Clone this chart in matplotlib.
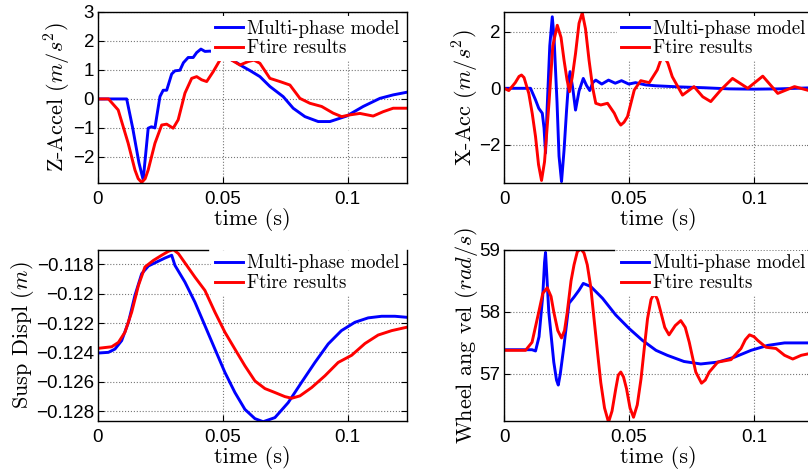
import numpy as np
import matplotlib.pyplot as plt
from matplotlib.ticker import FuncFormatter

plt.rcParams['mathtext.fontset'] = 'cm'
plt.rcParams['axes.unicode_minus'] = True

# ---- Z acceleration (m/s^2) ----
za_t_mp = [0, 0.0116, 0.0140, 0.0165, 0.0182, 0.0202, 0.0215, 0.0229, 0.0249, 0.0262, 0.0276,
           0.0296, 0.0309, 0.0329, 0.0343, 0.0362, 0.0382, 0.0396, 0.0413, 0.0429, 0.0450,
           0.0475, 0.0509, 0.0549, 0.0580, 0.0609, 0.0649, 0.0689, 0.0742, 0.0782, 0.0829,
           0.0882, 0.0929, 0.0996, 0.1062, 0.1129, 0.1182, 0.1236]
za_mp = [0, 0, -1.0, -2.2, -2.79, -1.01, -0.96, -1.0, 0.08, 0.3, 0.3,
         0.86, 0.97, 0.99, 1.25, 1.43, 1.43, 1.6, 1.72, 1.64, 1.65,
         1.6, 1.46, 1.29, 1.12, 0.98, 0.77, 0.43, 0.08, -0.32, -0.61,
         -0.78, -0.78, -0.59, -0.26, 0.02, 0.14, 0.23]
za_t_ft = [0, 0.0043, 0.0082, 0.0122, 0.0149, 0.0162, 0.0176, 0.0190, 0.0202, 0.0229, 0.0256,
           0.0276, 0.0302, 0.0322, 0.0349, 0.0376, 0.0396, 0.0416, 0.0436, 0.0462, 0.0489,
           0.0507, 0.0536, 0.0569, 0.0602, 0.0625, 0.0649, 0.0689, 0.0729, 0.0769, 0.0809,
           0.0849, 0.0896, 0.0942, 0.0976, 0.1009, 0.1049, 0.1102, 0.1142, 0.1182, 0.1236]
za_ft = [0, 0, -0.38, -1.53, -2.45, -2.75, -2.88, -2.75, -2.45, -1.53, -0.9,
         -0.87, -1.01, -0.72, 0.2, 0.71, 0.77, 0.66, 0.6, 0.94, 1.34,
         1.52, 1.34, 1.17, 1.29, 1.34, 1.23, 0.71, 0.6, 0.48, 0.02,
         -0.15, -0.26, -0.49, -0.61, -0.55, -0.5, -0.59, -0.44, -0.32, -0.32]

# ---- X acceleration (m/s^2) ----
xa_t_mp = [0, 0.0106, 0.0126, 0.0139, 0.0153, 0.0160, 0.0166, 0.0172, 0.0183, 0.0193, 0.0200,
           0.0212, 0.0220, 0.0230, 0.0240, 0.0250, 0.0258, 0.0264, 0.0275, 0.0286, 0.0300,
           0.0317, 0.0330, 0.0343, 0.0355, 0.0367, 0.0391, 0.0418, 0.0445, 0.0470, 0.0499,
           0.0526, 0.0566, 0.0606, 0.0700, 0.0800, 0.0900, 0.1000, 0.1100, 0.1236]
xa_mp = [0, 0, -0.41, -0.71, -0.88, -1.4, -2.29, -0.8, 1.5, 2.53, 1.8,
         -0.5, -2.4, -3.3, -2.2, -0.8, 0.2, 0.59, 0.0, -0.77, -0.1,
         0.35, 0.1, -0.08, 0.2, 0.29, 0.15, 0.29, 0.18, 0.27, 0.15,
         0.2, 0.12, 0.09, 0.05, 0.02, -0.02, -0.03, -0.02, 0.02]
xa_t_ft = [0, 0.0019, 0.0045, 0.0060, 0.0070, 0.0080, 0.0099, 0.0113, 0.0126, 0.0138, 0.0150,
           0.0162, 0.0180, 0.0195, 0.0213, 0.0228, 0.0240, 0.0252, 0.0262, 0.0273, 0.0286,
           0.0300, 0.0313, 0.0326, 0.0340, 0.0355, 0.0367, 0.0387, 0.0414, 0.0441, 0.0455,
           0.0467, 0.0480, 0.0494, 0.0521, 0.0547, 0.0581, 0.0613, 0.0627, 0.0640, 0.0655,
           0.0673, 0.0714, 0.0760, 0.0795, 0.0827, 0.0867, 0.0914, 0.0975, 0.1035, 0.1095,
           0.1162, 0.1236]
xa_ft = [0, -0.08, 0.2, 0.42, 0.47, 0.38, -0.18, -0.9, -1.71, -2.7, -3.26,
         -2.6, -0.5, 1.5, 2.23, 1.8, 1.0, 0.3, -0.12, 0.4, 1.23,
         2.3, 2.67, 2.1, 1.0, 0.0, -0.53, -0.59, -0.53, -0.88, -1.15,
         -1.3, -1.2, -1.0, -0.06, 0.27, 0.2, 0.65, 1.0, 1.12, 0.9,
         0.41, -0.24, 0.06, -0.3, -0.47, -0.06, 0.35, 0.0, 0.43, -0.18,
         0.06, -0.12]

# ---- suspension displacement (m) ----
sd_t_mp = [0, 0.0043, 0.0069, 0.0096, 0.0123, 0.0149, 0.0176, 0.0203, 0.0236, 0.0269, 0.0296,
           0.0309, 0.0349, 0.0389, 0.0429, 0.0469, 0.0509, 0.0549, 0.0589, 0.0629, 0.0662,
           0.0709, 0.0762, 0.0815, 0.0869, 0.0922, 0.0975, 0.1029, 0.1082, 0.1136, 0.1189, 0.1236]
sd_mp = [-0.12405, -0.1240, -0.12378, -0.1232, -0.12195, -0.12012, -0.11864, -0.11811, -0.11784,
         -0.11757, -0.11738, -0.11807, -0.11921, -0.12058, -0.12218, -0.12378, -0.12537, -0.12674,
         -0.12789, -0.12852, -0.12873, -0.12845, -0.12743, -0.12606, -0.12469, -0.12343, -0.12252,
         -0.12195, -0.12165, -0.12154, -0.12154, -0.12161]
sd_t_ft = [0, 0.0056, 0.0083, 0.0109, 0.0136, 0.0163, 0.0189, 0.0223, 0.0256, 0.0283, 0.0303,
           0.0323, 0.0356, 0.0389, 0.0429, 0.0469, 0.0509, 0.0549, 0.0589, 0.0629, 0.0669,
           0.0709, 0.0749, 0.0776, 0.0809, 0.0856, 0.0909, 0.0962, 0.1016, 0.1069, 0.1122,
           0.1176, 0.1236]
sd_ft = [-0.12373, -0.12362, -0.12332, -0.12263, -0.12126, -0.11944, -0.11818, -0.11773, -0.11738,
         -0.11711, -0.11700, -0.11727, -0.11807, -0.11887, -0.11978, -0.12126, -0.12263, -0.12378,
         -0.12492, -0.12595, -0.12647, -0.12674, -0.12702, -0.12713, -0.12697, -0.12640, -0.12560,
         -0.12469, -0.12420, -0.12340, -0.12282, -0.12252, -0.12229]

# ---- wheel angular velocity (rad/s) ----
wv_t_mp = [0, 0.0112, 0.0126, 0.0140, 0.0155, 0.0162, 0.0166, 0.0171, 0.0179, 0.0199, 0.0210,
           0.0217, 0.0225, 0.0240, 0.0260, 0.0280, 0.0300, 0.0317, 0.0347, 0.0394, 0.0447,
           0.0501, 0.0554, 0.0608, 0.0653, 0.0720, 0.0787, 0.0855, 0.0922, 0.0988, 0.1055,
           0.1122, 0.1236]
wv_mp = [57.39, 57.39, 57.37, 57.6, 58.27, 58.8, 58.96, 58.6, 58.0, 57.19, 56.9,
         56.82, 57.0, 57.46, 58.14, 58.24, 58.35, 58.46, 58.41, 58.22, 57.95,
         57.73, 57.54, 57.38, 57.3, 57.2, 57.16, 57.19, 57.27, 57.38, 57.46,
         57.5, 57.5]
wv_t_ft = [0, 0.0086, 0.0112, 0.0128, 0.0139, 0.0155, 0.0173, 0.0188, 0.0199, 0.0215, 0.0230,
           0.0242, 0.0253, 0.0268, 0.0280, 0.0293, 0.0307, 0.0320, 0.0333, 0.0347, 0.0360,
           0.0374, 0.0387, 0.0402, 0.0418, 0.0432, 0.0447, 0.0457, 0.0467, 0.0478, 0.0490,
           0.0504, 0.0518, 0.0533, 0.0548, 0.0562, 0.0574, 0.0588, 0.0601, 0.0614, 0.0627,
           0.0643, 0.0660, 0.0685, 0.0707, 0.0725, 0.0741, 0.0767, 0.0790, 0.0805, 0.0821,
           0.0855, 0.0908, 0.0948, 0.0965, 0.0982, 0.1000, 0.1015, 0.1048, 0.1088, 0.1122,
           0.1155, 0.1189, 0.1236]
wv_ft = [57.38, 57.38, 57.51, 57.8, 58.0, 58.3, 58.39, 58.25, 58.0, 57.7, 57.58,
         57.7, 58.0, 58.5, 58.76, 58.97, 59.02, 58.95, 58.76, 58.4, 57.89,
         57.35, 56.86, 56.45, 56.22, 56.4, 56.76, 56.98, 57.03, 56.95, 56.76,
         56.45, 56.3, 56.5, 56.92, 57.45, 57.89, 58.2, 58.3, 58.2, 58.0,
         57.75, 57.63, 57.78, 57.86, 57.75, 57.51, 57.03, 56.85, 56.9, 57.03,
         57.19, 57.23, 57.41, 57.55, 57.63, 57.6, 57.54, 57.43, 57.41, 57.3,
         57.24, 57.3, 57.34]

x_ticks = [0, 0.05, 0.1]
panels = [
    dict(pos=[0.1209, 0.6123, 0.3824, 0.3623], t1=za_t_mp, y1=za_mp, t2=za_t_ft, y2=za_ft,
         ylim=(-2.9, 3.0), yticks=[-2, -1, 0, 1, 2, 3], ylabel='Z-Accel $(m/s^2)$',
         top=True, labx=-0.08),
    dict(pos=[0.6238, 0.6123, 0.3824, 0.3623], t1=xa_t_mp, y1=xa_mp, t2=xa_t_ft, y2=xa_ft,
         ylim=(-3.35, 2.7), yticks=[-2, 0, 2], ylabel='X-Acc $(m/s^2)$',
         top=True, labx=-0.076),
    dict(pos=[0.1209, 0.1081, 0.3824, 0.3623], t1=sd_t_mp, y1=sd_mp, t2=sd_t_ft, y2=sd_ft,
         ylim=(-0.12868, -0.11702), yticks=[-0.128, -0.126, -0.124, -0.122, -0.12, -0.118],
         ylabel='Susp Displ $(m)$', top=False, labx=-0.2),
    dict(pos=[0.6238, 0.1081, 0.3824, 0.3623], t1=wv_t_mp, y1=wv_mp, t2=wv_t_ft, y2=wv_ft,
         ylim=(56.24, 59.0), yticks=[57, 58, 59], ylabel='Wheel ang vel $(rad/s)$',
         top=False, labx=-0.079),
]

fmt = FuncFormatter(lambda v, p: ('%g' % v).replace('-', '\u2212'))

fig = plt.figure(figsize=(8.08, 4.72), dpi=100)
for p in panels:
    ax = fig.add_axes(p['pos'])
    ax.plot(p['t1'], p['y1'], color='#0000ff', lw=2.1, label='Multi-phase model', zorder=2)
    ax.plot(p['t2'], p['y2'], color='#ff0000', lw=2.1, label='Ftire results', zorder=2)
    ax.set_xlim(0, 0.1236)
    ax.set_ylim(*p['ylim'])
    ax.set_xticks(x_ticks)
    ax.set_yticks(p['yticks'])
    ax.xaxis.set_major_formatter(fmt)
    ax.yaxis.set_major_formatter(fmt)
    ax.grid(True, linestyle=':', color='#777777', lw=0.8)
    ax.tick_params(direction='in', length=4, top=p['top'], right=True, labelsize=13.5)
    ax.tick_params(axis='x', pad=6)
    ax.tick_params(axis='y', pad=2.5)
    for lab in ax.get_xticklabels() + ax.get_yticklabels():
        lab.set_family('Liberation Sans')
    for s in ax.spines.values():
        s.set_linewidth(1.0)
    if not p['top']:
        # legend sits over the top border in the lower panels
        ax.spines['top'].set_bounds(0, 0.044)
    ax.set_xlabel('time (s)', family='cmr10', size=16, labelpad=0)
    ax.set_ylabel(p['ylabel'], family='cmr10', size=16)
    ax.yaxis.set_label_coords(p['labx'], 0.5)
    # opaque legend box, no visible frame
    anchor_y = 0.972 if p['top'] else 0.99
    leg = ax.legend(loc='upper right', bbox_to_anchor=(0.985, anchor_y), borderaxespad=0,
                    prop=dict(family='cmr10', size=13.5), handlelength=1.5,
                    handletextpad=0.2, labelspacing=0.1, borderpad=0.15,
                    frameon=True, fancybox=False, framealpha=1.0,
                    facecolor='white', edgecolor='white')
    leg.get_frame().set_linewidth(1.5)
    if p['top']:
        leg.set_zorder(2.2)

fig.savefig('out.png', dpi=100)
